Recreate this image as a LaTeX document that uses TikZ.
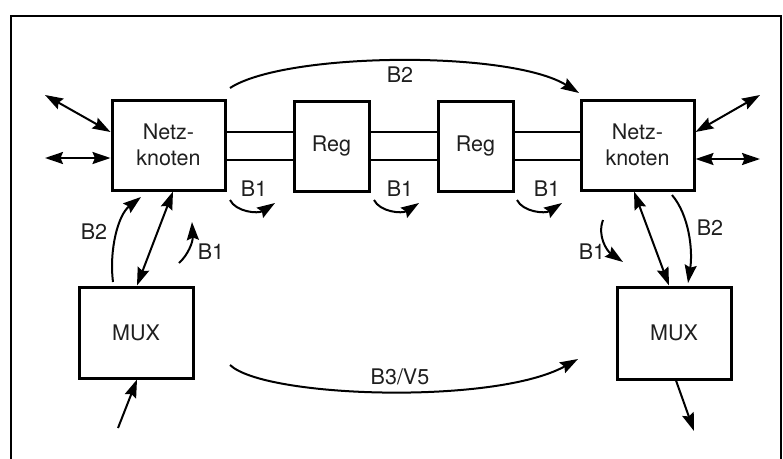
\documentclass[tikz,border=0pt]{standalone}
\usepackage{fontspec}
\setmainfont{TeX Gyre Heros}
\usetikzlibrary{arrows.meta}
\begin{document}
\begin{tikzpicture}[x=1pt,y=-1pt,
  box/.style={draw, line width=3pt, fill=white, inner sep=0pt, align=center,
    font=\fontsize{21.5}{26}\selectfont, text=black!88},
  lbl/.style={font=\fontsize{21.5}{26}\selectfont, text=black!88, inner sep=0pt},
  arr/.style={line width=2pt, -{Stealth[length=18pt,width=12pt,inset=2.5pt]}},
  darr/.style={line width=2pt, {Stealth[length=18pt,width=12pt,inset=2.5pt]}-{Stealth[length=18pt,width=12pt,inset=2.5pt]}},
  link/.style={line width=2pt}]
\useasboundingbox (0,0) rectangle (783,458);
% frame
\draw[line width=2pt] (11,470) -- (11,16) -- (781,16) -- (781,470);

% boxes
\node[box, minimum width=113pt, minimum height=90pt] (nl) at (168.5,145) {Netz-\\knoten};
\node[box, minimum width=113pt, minimum height=90pt] (nr) at (637.5,145) {Netz-\\knoten};
\node[box, minimum width=75pt, minimum height=90pt] (r1) at (331.5,146) {Reg};
\node[box, minimum width=75pt, minimum height=90pt] (r2) at (475.5,146) {Reg};
\node[box, minimum width=114pt, minimum height=91pt] (ml) at (136,332.5) {MUX};
\node[box, minimum width=114pt, minimum height=92pt] (mr) at (674,333) {MUX};

% double lines
\coordinate (hu) at (0,132);
\coordinate (hl) at (0,160);
\foreach \a/\b in {nl/r1, r1/r2, r2/nr}{
  \draw[link] (\a.east |- hu) -- (\b.west |- hu);
  \draw[link] (\a.east |- hl) -- (\b.west |- hl);
}

% outer double arrows
\coordinate (lo1) at (45,95);
\coordinate (lo2) at (45,158);
\coordinate (ro1) at (760,95);
\coordinate (ro2) at (760,159);
\draw[darr] (lo1) -- (nl.west |- 0,132);
\draw[darr] (lo2) -- (nl.west |- 0,158);
\draw[darr] (nr.east |- 0,132) -- (ro1);
\draw[darr] (nr.east |- 0,159) -- (ro2);

% top B2 arc
\coordinate (t0) at (230,88);
\coordinate (t1) at (579,93);
\draw[arr] (t0) .. controls (285,52) and (510,50) .. (t1);
\node[lbl] (lb2t) at (400,75) {B2};

% small B1 arcs
\foreach \x/\n in {230/a, 374/b, 517/c}{
  \coordinate (s\n) at (\x,200);
  \coordinate (e\n) at (\x+45,203);
  \draw[arr] (s\n) .. controls (\x+6,212) and (\x+28,214) .. (e\n);
}
\node[lbl] (lb1a) at (254,189) {B1};
\node[lbl] (lb1b) at (400,189) {B1};
\node[lbl] (lb1c) at (547,189) {B1};

% left vertical group
\coordinate (lb2s) at (113,282);
\coordinate (lb2e) at (141,197);
\draw[arr] (lb2s) .. controls (109,250) and (118,215) .. (lb2e);
\node[lbl] (lb2) at (94,232) {B2};
\draw[darr] (ml.north -| 137,0) -- (nl.south -| 173,0);
\coordinate (lb1s) at (179,263);
\coordinate (lb1e) at (192,222);
\draw[arr] (lb1s) .. controls (188,255) and (193,242) .. (lb1e);
\node[lbl] (lb1) at (211,252) {B1};

% right vertical group
\draw[darr] (nr.south -| 634,0) -- (mr.north -| 669,0);
\coordinate (rb2s) at (672,195);
\coordinate (rb2e) at (688,283);
\draw[arr] (rb2s) .. controls (689,215) and (693,250) .. (rb2e);
\node[lbl] (rb2) at (710,228) {B2};
\coordinate (rb1s) at (603,220);
\coordinate (rb1e) at (623,262);
\draw[arr] (rb1s) .. controls (597,236) and (607,251) .. (rb1e);
\node[lbl] (rb1) at (592,252) {B1};

% MUX in/out
\coordinate (min) at (118,428);
\coordinate (mout) at (694,431);
\draw[arr] (min) -- (ml.south -| 137,0);
\draw[arr] (mr.south -| 676,0) -- (mout);

% bottom arc
\coordinate (b0) at (230,365);
\coordinate (b1) at (578,359);
\draw[arr] (b0) .. controls (265,398) and (495,405) .. (b1);
\node[lbl] (lb3) at (400,377) {B3/V5};
\end{tikzpicture}
\end{document}
